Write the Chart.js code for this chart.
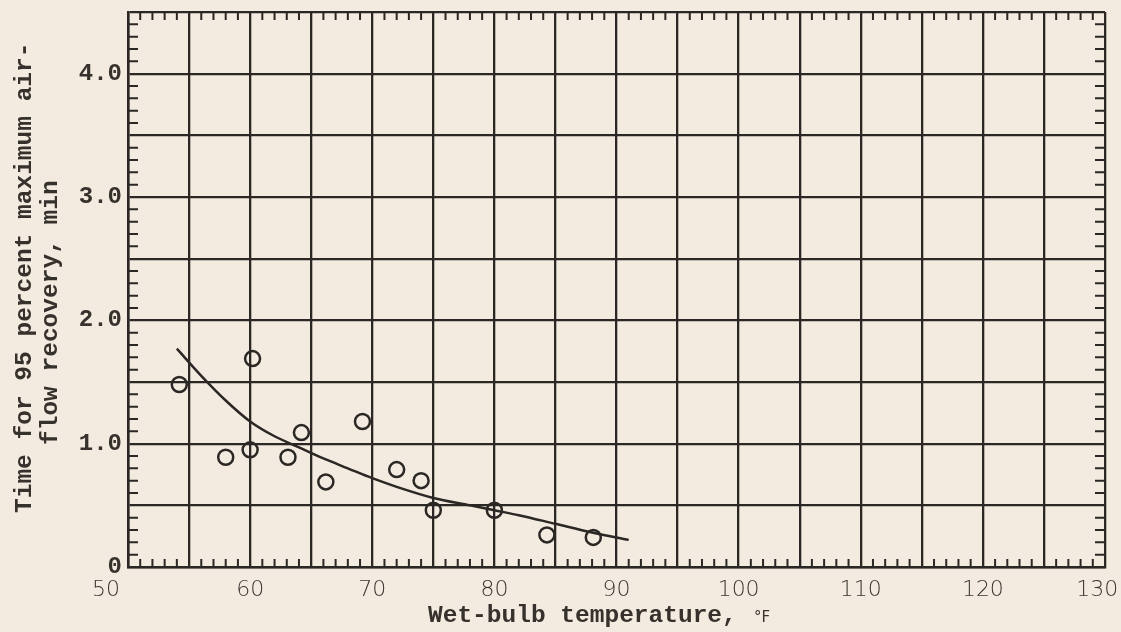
<!DOCTYPE html>
<html>
<head>
<meta charset="utf-8">
<script src="https://cdn.jsdelivr.net/npm/chart.js@4.4.1/dist/chart.umd.min.js"></script>
<style>
  html, body { margin: 0; padding: 0; background: #f3ebdf; }
  #wrap { width: 1121px; height: 632px; position: relative; }
</style>
</head>
<body>
<div id="wrap"><canvas id="myChart"></canvas></div>
<script>
// measured points (wet-bulb temp, time to 95% airflow recovery)
const tempPoints = [54.2, 58.0, 60.0, 60.2, 63.1, 64.2, 66.2, 69.2, 72.0, 74.0, 75.0, 80.0, 84.3, 88.1];
const timePoints = [1.48, 0.89, 0.95, 1.69, 0.89, 1.09, 0.69, 1.18, 0.79, 0.70, 0.46, 0.46, 0.26, 0.24];

// faired curve
const curveTemp = [54, 56, 58, 60, 62, 64, 66, 68, 70, 72, 75, 78, 80, 82, 85, 88, 91];
const curveTime = [1.77, 1.55, 1.35, 1.18, 1.06, 0.97, 0.88, 0.80, 0.72, 0.65, 0.56, 0.50, 0.46, 0.42, 0.35, 0.28, 0.22];

const xTickLabels = [50, 60, 70, 80, 90, 100, 110, 120, 130];
const yTickLabels = { 0: '0', 1: '1.0', 2: '2.0', 3: '3.0', 4: '4.0' };

const ink = '#2a2724';
const typeFont = "'Liberation Mono', 'Courier New', monospace";
const letterFont = "'DejaVu Sans', sans-serif";

// end labels sit a bit left of their lines on the original sheet
function xLabel(v) {
    if (!xTickLabels.includes(v)) return '';
    if (v === 50) return '50\u2003\u2003';
    if (v === 130) return '130\u2002\u2009';
    return String(v);
}

// small inward ticks around the frame + typed axis titles
const frameStuff = {
    id: 'frameStuff',
    afterDraw(chart) {
        const ctx = chart.ctx;
        const a = chart.chartArea;
        const xs = chart.scales.x, ys = chart.scales.y;
        ctx.save();
        ctx.strokeStyle = ink;
        ctx.lineWidth = 2;
        ctx.beginPath();
        for (let v = 51; v < 130; v++) {
            if (v % 5 === 0) continue;
            const px = xs.getPixelForValue(v);
            ctx.moveTo(px, a.bottom); ctx.lineTo(px, a.bottom - 8);
            ctx.moveTo(px, a.top); ctx.lineTo(px, a.top + 8);
        }
        for (let i = 1; i < 45; i++) {
            if (i % 5 === 0) continue;
            const py = ys.getPixelForValue(i / 10);
            ctx.moveTo(a.left, py); ctx.lineTo(a.left + 10, py);
            ctx.moveTo(a.right, py); ctx.lineTo(a.right - 10, py);
        }
        ctx.stroke();

        ctx.fillStyle = '#36312c';
        ctx.font = 'bold 24.5px ' + typeFont;
        ctx.textAlign = 'left';
        ctx.textBaseline = 'alphabetic';
        ctx.fillText('Wet-bulb temperature,', 428, 622);
        ctx.font = '15px ' + letterFont;
        ctx.fillText('°F', 754, 622);

        ctx.font = 'bold 24.5px ' + typeFont;
        ctx.translate(31, 513);
        ctx.rotate(-Math.PI / 2);
        ctx.fillText('Time for 95 percent maximum air-', 0, 0);
        ctx.rotate(Math.PI / 2);
        ctx.translate(-31, -513);
        ctx.translate(57, 445);
        ctx.rotate(-Math.PI / 2);
        ctx.fillText('flow recovery, min', 0, 0);
        ctx.restore();
    }
};

const data = {
    datasets: [{
        type: 'scatter',
        data: tempPoints.map((t, i) => ({ x: t, y: timePoints[i] })),
        pointStyle: 'circle',
        pointRadius: 7.5,
        pointBorderWidth: 2.5,
        borderColor: ink,
        backgroundColor: 'rgba(0,0,0,0)',
        order: 1
    }, {
        type: 'line',
        data: curveTemp.map((t, i) => ({ x: t, y: curveTime[i] })),
        borderColor: ink,
        borderWidth: 2.5,
        pointRadius: 0,
        cubicInterpolationMode: 'monotone',
        fill: false,
        order: 2
    }]
};

const config = {
    data: data,
    options: {
        responsive: true,
        maintainAspectRatio: false,
        animation: false,
        layout: { padding: { top: 12, right: 16, left: 0, bottom: 0 } },
        scales: {
            x: {
                type: 'linear',
                min: 50,
                max: 130,
                afterFit: s => { s.height = 65; s.paddingLeft = 0; s.paddingRight = 0; },
                border: { color: ink, width: 2.5 },
                grid: { color: ink, lineWidth: 2.3, drawTicks: false },
                ticks: {
                    stepSize: 5,
                    padding: 10,
                    autoSkip: false,
                    maxRotation: 0,
                    minRotation: 0,
                    color: '#3a3631',
                    font: { family: letterFont, size: 22, weight: '200' },
                    callback: xLabel
                }
            },
            y: {
                type: 'linear',
                min: 0,
                max: 4.5,
                afterFit: s => { s.width = 128; s.paddingTop = 0; s.paddingBottom = 0; },
                border: { color: ink, width: 2.5 },
                grid: { color: ink, lineWidth: 2.3, drawTicks: false },
                ticks: {
                    stepSize: 0.5,
                    padding: 6,
                    color: '#36312c',
                    font: { family: typeFont, size: 24, weight: 'bold' },
                    callback: v => (v in yTickLabels) ? yTickLabels[v] : ''
                }
            }
        },
        plugins: {
            legend: { display: false },
            tooltip: { enabled: false }
        }
    },
    plugins: [frameStuff]
};

const myChart = new Chart(document.getElementById('myChart'), config);
</script>
</body>
</html>
